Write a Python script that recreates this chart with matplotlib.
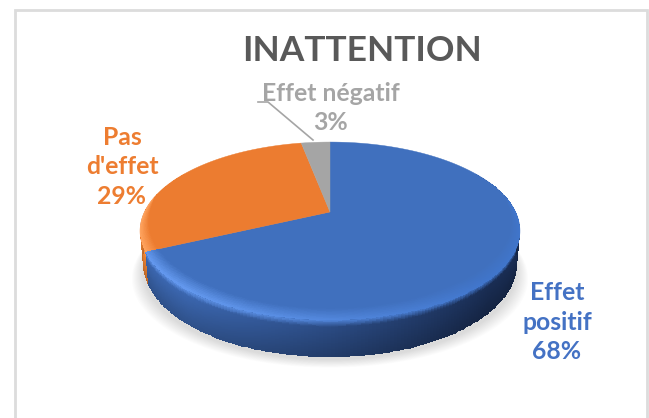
import numpy as np
import matplotlib
matplotlib.use("Agg")
import matplotlib.pyplot as plt
from matplotlib.colors import to_rgb

categories = ["Effet positif", "Pas\nd'effet", "Effet négatif"]
values = [68, 29, 3]
label_colors = ["#4472c4", "#ed7d31", "#a5a5a5"]
face_colors = ["#4070be", "#ec7c30", "#a5a5a5"]
wall_left = ["#3c68b2", "#f08432", "#8c8c8c"]
wall_right = ["#1a2e55", "#a85a20", "#6e6e6e"]
title = "INATTENTION"

# pixel layout of the tilted disc
CX, CY = 330, 212
RX, RY, PERSP = 185.6, 84.9, 0.2135
DEPTH = 37


def project(theta, r=1.0):
    # theta is clockwise from 12 o'clock, in degrees
    t = np.radians(theta)
    u, v = r * np.sin(t), r * np.cos(t)
    w = 1 + PERSP * v
    return CX + RX * u / w, CY - RY * v / w


def mix(a, b, f):
    f = np.clip(f, 0, 1)[..., None]
    return np.array(a) * (1 - f) + np.array(b) * f


def centers(g):
    return 0.25 * (g[:-1, :-1] + g[1:, :-1] + g[:-1, 1:] + g[1:, 1:])


def lighting(theta):
    px = (project(theta)[0] - CX + 190) / 380
    return np.clip(1.15 - 1.25 * px, 0, 1)


def highlight(face, lit):
    return np.clip(face + 0.14 * lit[..., None] + np.array([0, 0.02, 0.05]), 0, 1)


fig = plt.figure(figsize=(6.49, 4.18), dpi=100)
ax = fig.add_axes([0, 0, 1, 1])
ax.set_xlim(0, 649)
ax.set_ylim(418, 0)
ax.axis("off")

# chart frame, open at the bottom
ax.plot([15, 15, 646.5, 646.5], [418, 9.5, 9.5, 418], color="#dcdcdc", lw=2, solid_joinstyle="miter")

# soft shadow under the disc
th = np.linspace(0, 360, 361)
for grow in np.linspace(11, 0, 12):
    sx, sy = project(th)
    ax.fill(CX + (sx - CX) * (0.985 + grow / 190), sy + DEPTH + 3 + grow * 0.7, color="#000000", alpha=0.012, lw=0)

edges = np.cumsum([0] + values) / sum(values) * 360

# side wall per slice, under the top face
for i in range(len(values)):
    a2, b2 = max(edges[i], 60), min(edges[i + 1], 300)
    if a2 >= b2:
        continue
    T, S = np.meshgrid(np.linspace(a2, b2, 200), np.linspace(0, 1, 45))
    X, Y = project(T)
    # the wall narrows slightly going down and is shallower at the sides
    X = CX + (X - CX) * (1 - 0.015 * S)
    Y = Y + DEPTH * S * (0.8 + 0.2 * np.clip(-np.cos(np.radians(T)), 0, 1))
    Tc, Sc = centers(T), centers(S)
    lit = lighting(Tc)
    wall = mix(to_rgb(wall_right[i]), to_rgb(wall_left[i]), lit)
    wall = wall * (1 - 0.22 * np.clip((Sc - 0.1) / 0.9, 0, 1))[..., None]
    high = highlight(np.array(to_rgb(face_colors[i])), lit)
    rgb = mix(high, wall, np.clip(Sc / 0.18, 0, 1))
    ax.pcolormesh(X, Y, rgb, shading="flat", antialiased=False, rasterized=True, zorder=2)

# top face
for i in range(len(values)):
    ex, ey = project(np.linspace(edges[i], edges[i + 1], 200))
    ax.fill(np.r_[CX, ex], np.r_[CY, ey], color=face_colors[i], lw=0.3, zorder=3)

# rounded rim on the top face, widest at the front, fading out on the sides
for i in range(len(values)):
    a2, b2 = max(edges[i], 80), min(edges[i + 1], 280)
    if a2 >= b2:
        continue
    T, S = np.meshgrid(np.linspace(a2, b2, 200), np.linspace(0, 1, 16))
    width = 0.085 * np.clip(-np.cos(np.radians(T)) + 0.17, 0, 1) ** 0.6
    X, Y = project(T, 1 - width * (1 - S))
    Tc, Sc = centers(T), centers(S)
    face = np.array(to_rgb(face_colors[i])) * np.ones(Tc.shape + (3,))
    rgb = mix(face, highlight(np.array(to_rgb(face_colors[i])), lighting(Tc)), Sc)
    ax.pcolormesh(X, Y, rgb, shading="flat", antialiased=False, rasterized=True, zorder=3.5)

# leader line for the small slice
ax.plot([258, 268, 313], [102, 102, 140], color="#a5a5a5", lw=1.2, zorder=4)

ax.text(362, 51, title, ha="center", va="center", fontsize=25.5, fontweight="bold", family="Lato", color="#595959")

label_xy = [(557, 322), (122, 167), (331, 108)]
label_text = [
    "Effet\npositif\n{}%".format(values[0]),
    "{}\n{}%".format(categories[1], values[1]),
    "{}\n{}%".format(categories[2], values[2]),
]
for i in range(len(values)):
    ax.text(label_xy[i][0], label_xy[i][1], label_text[i], ha="center", va="center", multialignment="center",
            fontsize=17.8, fontweight="bold", family="Lato", color=label_colors[i], linespacing=1.35, zorder=5)

fig.savefig("out.png", dpi=100)
